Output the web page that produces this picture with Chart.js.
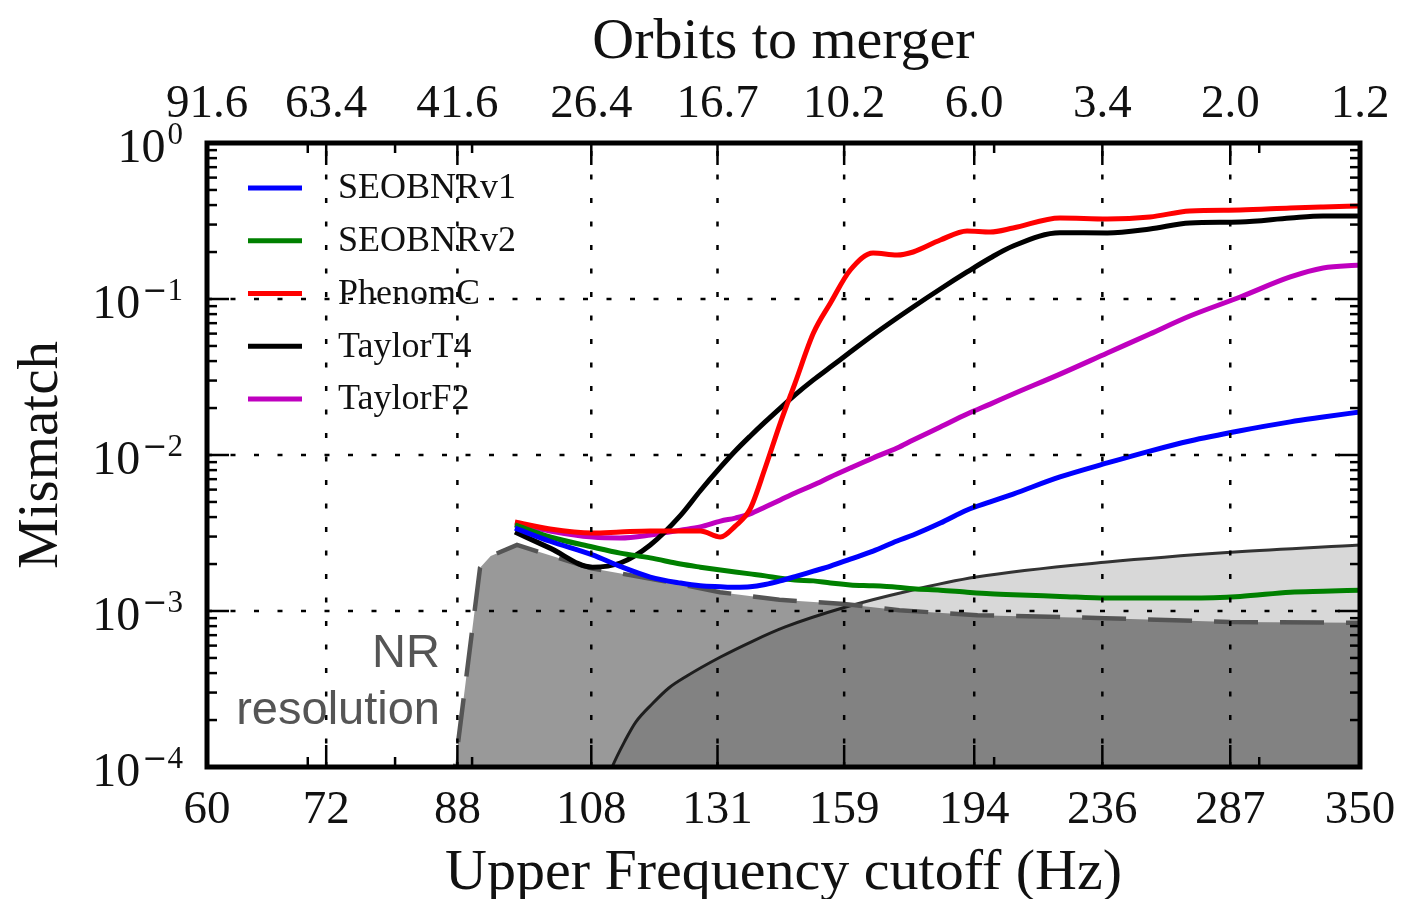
<!DOCTYPE html>
<html>
<head>
<meta charset="utf-8">
<script src="https://cdn.jsdelivr.net/npm/chart.js@4.4.1/dist/chart.umd.min.js"></script>
<style>
  html, body { margin: 0; padding: 0; background: #fff; }
  #wrap { width: 1405px; height: 899px; }
</style>
</head>
<body>
<div id="wrap"><canvas id="mismatchChart"></canvas></div>
<script>
// frequency grid (Hz) shared by the waveform model curves
const freq = [96.1, 101.4, 108.2, 112.9, 118.2, 123.8, 127.6, 131.6, 134.6, 137.7, 140.9, 144.2, 147.5, 151.7, 155.7,
              160.5, 166.2, 172.4, 176.7, 184.2, 191.9, 198.8, 205.9, 221.2, 237.8, 253.8, 269.8, 291.4, 314.6, 330.8, 350];

const seobnrv1 = [0.00340, 0.00280, 0.00229, 0.00193, 0.00165, 0.00151, 0.00145, 0.00143, 0.00142, 0.00143, 0.00148, 0.00156, 0.00166, 0.00180, 0.00194,
                  0.00215, 0.00242, 0.00281, 0.00307, 0.00366, 0.00444, 0.00500, 0.00562, 0.00723, 0.00889, 0.0106, 0.0123, 0.0143, 0.0163, 0.0175, 0.0189];
const seobnrv2 = [0.00356, 0.00298, 0.00257, 0.00235, 0.00219, 0.00200, 0.00191, 0.00183, 0.00178, 0.00173, 0.00168, 0.00162, 0.00158, 0.00156, 0.00151,
                  0.00147, 0.00145, 0.00142, 0.00139, 0.00136, 0.00132, 0.00129, 0.00127, 0.00124, 0.00121, 0.00121, 0.00121, 0.00124, 0.00132, 0.00134, 0.00136];
const phenomC  = [0.00372, 0.00335, 0.00316, 0.00321, 0.00326, 0.00326, 0.00326, 0.00298, 0.00350, 0.00451, 0.00825, 0.0160, 0.0289, 0.0605, 0.0943,
                  0.1534, 0.1972, 0.1914, 0.2001, 0.2388, 0.2729, 0.2689, 0.2851, 0.3305, 0.3257, 0.3354, 0.3665, 0.3720, 0.3831, 0.3889, 0.3946];
const taylorT4 = [0.00321, 0.00253, 0.00191, 0.00203, 0.00265, 0.00410, 0.00590, 0.00835, 0.0106, 0.0132, 0.0163, 0.0200, 0.0243, 0.0303, 0.0366,
                  0.0457, 0.0588, 0.0755, 0.0889, 0.1159, 0.1490, 0.1832, 0.2186, 0.2660, 0.2650, 0.2810, 0.3071, 0.3116, 0.3305, 0.3404, 0.3404];
const taylorF2 = [0.00366, 0.00326, 0.00298, 0.00294, 0.00307, 0.00330, 0.00346, 0.00377, 0.00394, 0.00419, 0.00464, 0.00515, 0.00571, 0.00642, 0.00723,
                  0.00825, 0.00957, 0.01109, 0.01248, 0.01512, 0.0183, 0.0212, 0.0246, 0.0330, 0.0451, 0.0597, 0.0778, 0.1030, 0.1384, 0.1580, 0.1652];

// NR resolution estimate (dashed boundary)
const freqNR = [87, 91.1, 92.6, 96.4, 108, 120, 131.5, 144, 159, 173, 195, 237, 287, 350];
const nrResolution = [0.000055, 0.00189, 0.00225, 0.00265, 0.00188, 0.00157, 0.00132, 0.00118, 0.00111, 0.00101, 0.00094, 0.00090, 0.00085, 0.00084];

// solid grey curve
const freqNoise = [108.2, 111.5, 113.7, 115.6, 118.7, 121.6, 125.0, 131.6, 138.3, 145.3, 159.4, 175.2, 194.6, 237.8, 289, 350];
const noiseFloor = [0.0000457, 0.000100, 0.000147, 0.000194, 0.000257, 0.000321, 0.000383, 0.000507, 0.000642, 0.000790,
                    0.00106, 0.00134, 0.00165, 0.00206, 0.00239, 0.00265];

// axes
const freqTicks = [60, 72, 88, 108, 131, 159, 194, 236, 287, 350];
const freqMinor = [70, 80, 90, 200, 300];
const orbitLabels = ['91.6', '63.4', '41.6', '26.4', '16.7', '10.2', '6.0', '3.4', '2.0', '1.2'];
const yTicks = [1, 0.1, 0.01, 0.001, 0.0001];

const SERIF = '"Liberation Serif", "DejaVu Serif", serif';

const pts = (xs, ys) => xs.map((f, i) => ({ x: f, y: ys[i] }));
const model = (label, ys, color) => ({
  label, data: pts(freq, ys), borderColor: color, borderWidth: 5,
  pointRadius: 0, fill: false, cubicInterpolationMode: 'monotone'
});

const decor = {
  id: 'decor',
  afterDatasetsDraw(chart) {
    const { ctx, chartArea: a, scales: { x, y } } = chart;
    const seg = (x1, y1, x2, y2) => { ctx.beginPath(); ctx.moveTo(x1, y1); ctx.lineTo(x2, y2); ctx.stroke(); };
    ctx.save();

    // dotted grid at the major ticks
    ctx.strokeStyle = '#000';
    ctx.lineWidth = 2.5;
    ctx.setLineDash([5, 18.5]);
    freqTicks.slice(1, -1).forEach(v => { const p = x.getPixelForValue(v); seg(p, a.bottom, p, a.top); });
    yTicks.slice(1, -1).forEach(v => { const p = y.getPixelForValue(v); seg(a.left, p, a.right, p); });
    ctx.setLineDash([]);

    // inward tick marks on all four sides
    ctx.lineWidth = 2.5;
    const xt = (v, len) => { const p = x.getPixelForValue(v); seg(p, a.bottom, p, a.bottom - len); seg(p, a.top, p, a.top + len); };
    freqTicks.forEach(v => xt(v, 22));
    freqMinor.forEach(v => xt(v, 10));
    const yt = (v, len) => { const p = y.getPixelForValue(v); seg(a.left, p, a.left + len, p); seg(a.right, p, a.right - len, p); };
    yTicks.forEach(v => yt(v, 22));
    for (let k = -4; k < 0; k++) for (let j = 2; j <= 9; j++) yt(j * Math.pow(10, k), 10);

    // frame
    ctx.lineWidth = 5;
    ctx.strokeRect(a.left, a.top, a.right - a.left, a.bottom - a.top);

    // y tick labels as 10 with superscript exponent
    ctx.fillStyle = '#111';
    ctx.textAlign = 'left';
    ctx.textBaseline = 'alphabetic';
    yTicks.forEach(v => {
      const p = y.getPixelForValue(v);
      const e = Math.round(Math.log10(v));
      const digit = String(Math.abs(e));
      ctx.font = '31px ' + SERIF;
      let xs = a.left - 24 - ctx.measureText(digit).width;
      ctx.fillText(digit, xs, p + 1);
      if (e < 0) {
        ctx.font = '30px "DejaVu Sans"';
        xs -= ctx.measureText('\u2212').width;
        ctx.fillText('\u2212', xs, p + 1);
      }
      ctx.font = '48px ' + SERIF;
      ctx.fillText('10', xs - 2 - ctx.measureText('10').width, p + 19);
    });

    // legend inside the plot
    const lx = a.left + 41, ly = a.top + 45, dy = 52.75;
    chart.data.datasets.slice(0, 5).forEach((ds, i) => {
      const yy = ly + i * dy;
      ctx.strokeStyle = ds.borderColor;
      ctx.lineWidth = 5;
      seg(lx, yy, lx + 54, yy);
      ctx.fillStyle = '#111';
      ctx.font = '36px ' + SERIF;
      ctx.textBaseline = 'middle';
      ctx.fillText(ds.label, lx + 90, yy + 1);
    });

    // NR resolution note
    ctx.fillStyle = '#555';
    ctx.font = '47px "Liberation Sans", Arial, sans-serif';
    ctx.textAlign = 'right';
    ctx.textBaseline = 'alphabetic';
    ctx.fillText('NR', a.left + 233, a.bottom - 100);
    ctx.fillText('resolution', a.left + 233, a.bottom - 43);
    ctx.restore();
  }
};

new Chart(document.getElementById('mismatchChart'), {
  type: 'line',
  data: {
    datasets: [
      model('SEOBNRv1', seobnrv1, '#0000ff'),
      model('SEOBNRv2', seobnrv2, '#008000'),
      model('PhenomC', phenomC, '#ff0000'),
      model('TaylorT4', taylorT4, '#000000'),
      model('TaylorF2', taylorF2, '#bf00bf'),
      {
        label: 'NR resolution', data: pts(freqNR, nrResolution),
        borderColor: '#555555', borderWidth: 4.5, borderDash: [44, 22], pointRadius: 0,
        tension: 0, fill: 'start', backgroundColor: 'rgba(0,0,0,0.4)'
      },
      {
        label: 'noise', data: pts(freqNoise, noiseFloor),
        borderColor: '#333333', borderWidth: 3, pointRadius: 0,
        cubicInterpolationMode: 'monotone', fill: 'start', backgroundColor: 'rgba(0,0,0,0.153)'
      }
    ]
  },
  options: {
    responsive: true,
    maintainAspectRatio: false,
    animation: false,
    layout: { padding: { left: 0, right: 45, top: 0, bottom: 0 } },
    plugins: { legend: { display: false }, tooltip: { enabled: false } },
    scales: {
      x: {
        type: 'logarithmic', position: 'bottom', min: 60, max: 350,
        grid: { display: false }, border: { display: false },
        afterBuildTicks: s => { s.ticks = freqTicks.map(v => ({ value: v })); },
        afterFit: s => { s.height = 132; },
        ticks: { autoSkip: false, maxRotation: 0, padding: 7, color: '#111', font: { family: SERIF, size: 47 }, callback: v => String(v) },
        title: { display: true, text: 'Upper Frequency cutoff (Hz)', color: '#111', font: { family: SERIF, size: 58, lineHeight: 0.88 }, padding: { top: 0, bottom: 0 } }
      },
      x2: {
        type: 'logarithmic', position: 'top', min: 60, max: 350,
        grid: { display: false }, border: { display: false },
        afterBuildTicks: s => { s.ticks = freqTicks.map(v => ({ value: v })); },
        afterFit: s => { s.height = 143; },
        ticks: { autoSkip: false, maxRotation: 0, padding: 2, color: '#111', font: { family: SERIF, size: 47 }, callback: (v, i) => orbitLabels[i] },
        title: { display: true, text: 'Orbits to merger', color: '#111', font: { family: SERIF, size: 58, lineHeight: 1 }, padding: { top: 14, bottom: 0 } }
      },
      y: {
        type: 'logarithmic', min: 0.0001, max: 1,
        grid: { display: false }, border: { display: false },
        ticks: { display: false },
        afterFit: s => { s.width = 207; },
        title: { display: true, text: 'Mismatch', color: '#111', font: { family: SERIF, size: 57, lineHeight: 1 }, padding: { top: 14, bottom: 0 } }
      }
    }
  },
  plugins: [decor]
});
</script>
</body>
</html>
